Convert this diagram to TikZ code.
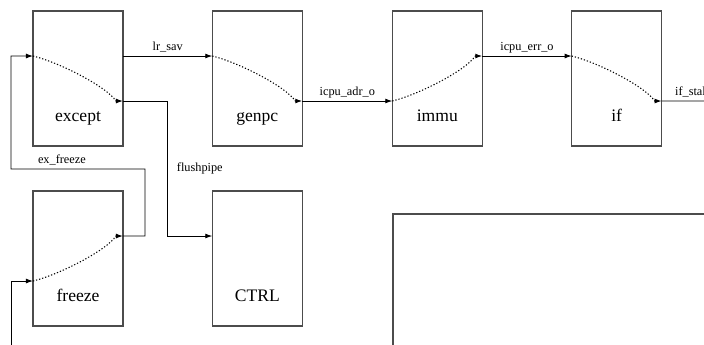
\documentclass[tikz,border=0pt]{standalone}
\usepackage{fontspec}
\setmainfont{Liberation Serif}
\usetikzlibrary{calc,arrows.meta}
\tikzset{
  blk/.style={draw=black!70, line width=0.8pt, minimum width=1.8cm, minimum height=2.7cm, inner sep=0pt, outer sep=0pt},
  blkname/.style={anchor=base, yshift=0.49cm, font=\fontsize{10}{12}\selectfont},
  wire/.style={line width=0.5pt, -{Latex[length=4pt,width=2.8pt]}},
  pass/.style={wire, line width=0.6pt, dash pattern=on 0.7pt off 1.1pt},
  sig/.style={anchor=base, yshift=0.11cm, inner sep=0pt, font=\fontsize{7}{8}\selectfont},
}
% dotted path through a block, going down or up
\def\passdown(#1)(#2){\draw[pass] (#1) .. controls +(25,6) and +(-10,-15) .. ($(#2)+(-7,0)$) -- (#2);}
\def\passup(#1)(#2){\draw[pass] (#1) .. controls +(25,-6) and +(-10,15) .. ($(#2)+(-7,0)$) -- (#2);}

\begin{document}
\begin{tikzpicture}[x=0.02cm, y=-0.02cm]
  \useasboundingbox (0,0) rectangle (704,345);
  \clip (0,0) rectangle (704,345);
  %%%%% blocks %%%%%
  \node[blk, label={[blkname]south:except}] (except) at (78,78.5) {};
  \node[blk, label={[blkname]south:genpc}] (genpc) at (257.3,78.5) {};
  \node[blk, label={[blkname]south:immu}] (immu) at (437.3,78.5) {};
  \node[blk, label={[blkname]south:if}] (ifu) at (616.7,78.5) {};
  \node[blk, label={[blkname]south:freeze}] (freeze) at (78,258.5) {};
  \node[blk, label={[blkname]south:CTRL}] (ctrl) at (257.3,258.5) {};
  \node[draw=black!70, line width=0.8pt, anchor=north west, minimum width=7cm, minimum height=3cm] (pane) at (392.3,213.3) {};

  %%%%% ports %%%%%
  \coordinate (except-i) at ($(except.north west)+(0,45)$);
  \coordinate (except-o1) at ($(except.north east)+(0,45)$);
  \coordinate (except-o2) at ($(except.north east)+(0,90)$);
  \coordinate (genpc-i) at ($(genpc.north west)+(0,45)$);
  \coordinate (genpc-o) at ($(genpc.north east)+(0,90)$);
  \coordinate (immu-i) at ($(immu.north west)+(0,90)$);
  \coordinate (immu-o) at ($(immu.north east)+(0,45)$);
  \coordinate (ifu-i) at ($(ifu.north west)+(0,45)$);
  \coordinate (ifu-o) at ($(ifu.north east)+(0,90)$);
  \coordinate (freeze-i) at ($(freeze.north west)+(0,90)$);
  \coordinate (freeze-o) at ($(freeze.north east)+(0,45)$);
  \coordinate (ctrl-i) at ($(ctrl.north west)+(0,45)$);
  \coordinate (fb) at (11,169);
  \coordinate (fin) at (11,350);
  \coordinate (ifend) at (730,101);

  %%%%% paths inside blocks %%%%%
  \passdown(except-i)(except-o2)
  \passdown(genpc-i)(genpc-o)
  \passup(immu-i)(immu-o)
  \passdown(ifu-i)(ifu-o)
  \passup(freeze-i)(freeze-o)

  %%%%% signals %%%%%
  \draw[wire] (except-o1) -- node[sig] {lr\_sav} (genpc-i);
  \draw[wire] (genpc-o) -- node[sig] {icpu\_adr\_o} (immu-i);
  \draw[wire] (immu-o) -- node[sig] {icpu\_err\_o} (ifu-i);
  \draw[wire] (ifu-o) -- node[sig, anchor=base west, pos=0.19] {if\_stall} (ifend);
  \draw[wire] (except-o2) -- ++(44,0) |- node[pos=0.25, anchor=base west, inner sep=0pt, xshift=0.19cm, yshift=-0.064cm, font=\fontsize{7}{8}\selectfont] {flushpipe} (ctrl-i);
  \draw[wire] (freeze-o) -| ($(freeze-o)+(22,-67)$) -- node[sig, pos=0.62] {ex\_freeze} (fb) |- (except-i);
  \draw[wire] (fin) |- (freeze-i);
\end{tikzpicture}
\end{document}
